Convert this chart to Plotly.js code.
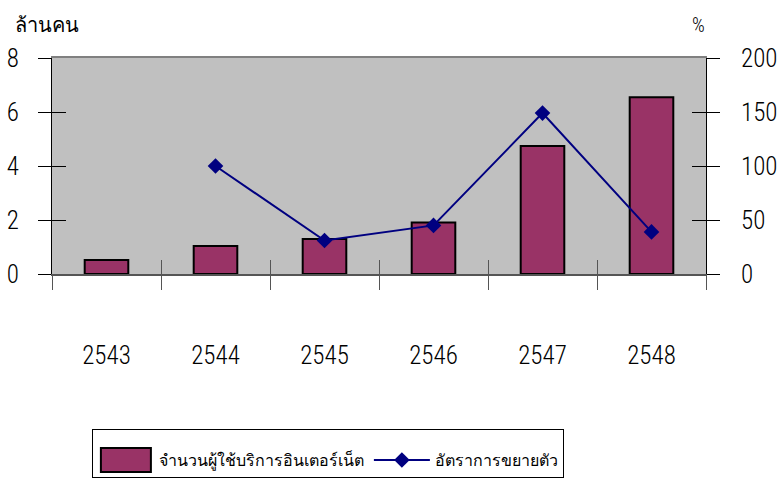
<!DOCTYPE html>
<html>
<head>
<meta charset="utf-8">
<script src="https://cdn.plot.ly/plotly-3.0.1.min.js"></script>
<style>body{margin:0;padding:0;background:#fff;}#chart{width:777px;height:497px;}</style>
</head>
<body>
<div id="chart"></div>
<script>
// ---- data ----
var years = ['2543', '2544', '2545', '2546', '2547', '2548'];
var users = [0.52, 1.04, 1.3, 1.91, 4.74, 6.55];          // ล้านคน
var growth = [null, 100, 31, 45, 149, 39];                // %
var barName = 'จำนวนผู้ใช้บริการอินเตอร์เน็ต';
var lineName = 'อัตราการขยายตัว';
var leftUnit = 'ล้านคน';
var rightUnit = '%';

var FONT = '"Roboto Condensed", Roboto, "Liberation Sans", sans-serif';

var traces = [
  {
    type: 'bar', name: barName, x: years, y: users,
    xaxis: 'x', yaxis: 'y', width: 0.4,
    marker: {color: '#993366', line: {color: '#000000', width: 2}}
  },
  {
    type: 'scatter', mode: 'lines+markers', name: lineName, x: years, y: growth,
    xaxis: 'x2', yaxis: 'y2', connectgaps: false,
    line: {color: '#000080', width: 2},
    marker: {symbol: 'diamond', size: 12, color: '#000080'}
  },
  // invisible helper traces so the tick-only overlay axes are drawn
  {type: 'scatter', mode: 'none', x: years, y: users, xaxis: 'x3', yaxis: 'y3',
   showlegend: false, hoverinfo: 'skip'},
  {type: 'scatter', mode: 'none', x: years, y: growth, xaxis: 'x3', yaxis: 'y4',
   showlegend: false, hoverinfo: 'skip'}
];

var catRange = [-0.5, years.length - 0.5];

var layout = {
  width: 777, height: 497,
  margin: {l: 52, r: 71, t: 58, b: 223, autoexpand: false},
  paper_bgcolor: '#ffffff', plot_bgcolor: '#c0c0c0',
  font: {family: FONT, size: 25, color: '#000', weight: 300},
  showlegend: true,
  xaxis: {
    type: 'category', categoryorder: 'array', categoryarray: years, range: catRange,
    tickson: 'boundaries', ticks: 'outside', ticklen: 14, tickcolor: '#555', tickwidth: 1,
    showline: true, linecolor: '#555', linewidth: 1.5, showgrid: false, zeroline: false,
    ticklabelstandoff: 58, tickfont: {size: 25, weight: 300}
  },
  xaxis2: {
    type: 'category', categoryorder: 'array', categoryarray: years, range: catRange,
    overlaying: 'x', anchor: 'y', side: 'bottom',
    tickson: 'boundaries', ticks: 'inside', ticklen: 14, tickcolor: '#555', tickwidth: 1,
    showticklabels: false, showline: false, showgrid: false, zeroline: false
  },
  xaxis3: {
    type: 'category', categoryorder: 'array', categoryarray: years, range: catRange,
    overlaying: 'x', anchor: 'y', side: 'top',
    showline: true, linecolor: '#808080', linewidth: 2,
    ticks: '', showticklabels: false, showgrid: false, zeroline: false
  },
  yaxis: {
    range: [0, 8], dtick: 2, ticks: 'outside', ticklen: 13, tickcolor: '#000', tickwidth: 1,
    showline: true, linecolor: '#000', linewidth: 1, showgrid: false, zeroline: false,
    ticklabelstandoff: 14, tickfont: {size: 25, weight: 300}
  },
  yaxis2: {
    range: [0, 200], dtick: 50, overlaying: 'y', side: 'right', anchor: 'x',
    ticks: 'outside', ticklen: 13, tickcolor: '#000', tickwidth: 1,
    showline: true, linecolor: '#000', linewidth: 1, showgrid: false, zeroline: false,
    ticklabelstandoff: 16, tickfont: {size: 25, weight: 300}
  },
  yaxis3: {
    range: [0, 8], dtick: 2, overlaying: 'y', side: 'left', anchor: 'x',
    ticks: 'inside', ticklen: 14, tickcolor: '#000', tickwidth: 1,
    showticklabels: false, showline: false, showgrid: false, zeroline: false
  },
  yaxis4: {
    range: [0, 200], dtick: 50, overlaying: 'y', side: 'right', anchor: 'x',
    ticks: 'inside', ticklen: 14, tickcolor: '#000', tickwidth: 1,
    showticklabels: false, showline: false, showgrid: false, zeroline: false
  },
  legend: {
    orientation: 'h', x: 0.061, xanchor: 'left', y: -0.718, yanchor: 'top',
    bgcolor: '#ffffff', bordercolor: '#000', borderwidth: 1,
    font: {size: 16, weight: 300}, itemwidth: 56,
    title: {text: ' ', side: 'top', font: {size: 10}}
  },
  annotations: [
    {text: leftUnit, xref: 'paper', yref: 'paper', x: -0.06, y: 1.09, xanchor: 'left', yanchor: 'bottom',
     showarrow: false, font: {size: 20, weight: 300}},
    {text: rightUnit, xref: 'paper', yref: 'paper', x: 0.989, y: 1.09, xanchor: 'center', yanchor: 'bottom',
     showarrow: false, font: {size: 20, weight: 300}}
  ]
};

Plotly.newPlot('chart', traces, layout, {displayModeBar: false, staticPlot: true}).then(function (gd) {
  // enlarge the bar swatch in the legend to the wide Excel-style box
  gd.querySelectorAll('.legend path.legendbar, .legend .legendpoints path.legendundefined').forEach(function (p) {
    p.setAttribute('d', 'M25,12H-25V-12H25Z');
  });
});
</script>
</body>
</html>
